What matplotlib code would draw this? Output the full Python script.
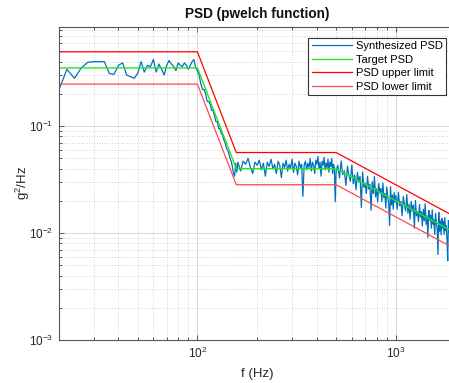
import numpy as np
import matplotlib
matplotlib.use("Agg")
import matplotlib.pyplot as plt
from matplotlib.ticker import LogLocator, NullFormatter

plt.rcParams['font.family'] = ['Liberation Sans', 'DejaVu Sans']
plt.rcParams['mathtext.fontset'] = 'custom'
plt.rcParams['mathtext.rm'] = 'Liberation Sans'
plt.rcParams['mathtext.it'] = 'Liberation Sans'

# ---- data ----
# Target PSD breakpoints and tolerance limits
target_f = [20, 100, 157, 500, 2000]
target_v = [0.35, 0.35, 0.04, 0.04, 0.01]
upper_v = [0.495, 0.495, 0.0566, 0.0566, 0.0141]
lower_v = [0.247, 0.247, 0.0283, 0.0283, 0.00707]

# Synthesized PSD (pwelch estimate)
synth_f_low = np.arange(20, 160, 2)
synth_v_low = [
    0.215, 0.34, 0.28, 0.35, 0.395, 0.40, 0.40, 0.40, 0.31, 0.305,
    0.37, 0.39, 0.30, 0.29, 0.28, 0.31, 0.40, 0.32, 0.37, 0.36,
    0.42, 0.32, 0.38, 0.34, 0.30, 0.37, 0.41, 0.38, 0.36, 0.33,
    0.39, 0.37, 0.36, 0.39, 0.37, 0.34, 0.37, 0.40, 0.42, 0.35,
    0.33, 0.30, 0.25, 0.22, 0.22, 0.20, 0.17, 0.17, 0.16, 0.14,
    0.14, 0.125, 0.11, 0.11, 0.095, 0.095, 0.085, 0.082, 0.074, 0.070,
    0.062, 0.060, 0.055, 0.050, 0.047, 0.042, 0.036, 0.034, 0.045, 0.037,
]
synth_f_mid = np.arange(160, 500, 5)
synth_v_mid = [
    0.046, 0.038, 0.047, 0.044, 0.050, 0.041, 0.036, 0.046,
    0.043, 0.048, 0.039, 0.045, 0.034, 0.046, 0.042, 0.049, 0.040, 0.044,
    0.036, 0.047, 0.043, 0.033, 0.045, 0.041, 0.048, 0.038, 0.044, 0.040,
    0.049, 0.037, 0.045, 0.042, 0.035, 0.047, 0.041, 0.044, 0.022, 0.043,
    0.047, 0.039, 0.045, 0.041, 0.050, 0.038, 0.046, 0.043, 0.036, 0.048,
    0.044, 0.052, 0.040, 0.046, 0.034, 0.047, 0.043, 0.051, 0.039, 0.045,
    0.041, 0.049, 0.037, 0.046, 0.042, 0.050, 0.036, 0.044, 0.041, 0.0196,
]
synth_f_high1 = np.arange(500, 1000, 10)
synth_v_high1 = [
    0.0380, 0.0431, 0.0327, 0.0472, 0.0352, 0.0382, 0.0279, 0.0421, 0.0345, 0.0305,
    0.0433, 0.0289, 0.0349, 0.0254, 0.0369, 0.0299, 0.0339, 0.0173, 0.0373, 0.0267,
    0.0292, 0.0234, 0.0339, 0.0258, 0.0286, 0.0163, 0.0302, 0.0234, 0.0338, 0.0218,
    0.0260, 0.0195, 0.0290, 0.0236, 0.0262, 0.0197, 0.0294, 0.0214, 0.0234, 0.0171,
    0.0269, 0.0218, 0.0193, 0.0118, 0.0272, 0.0183, 0.0227, 0.0167, 0.0239, 0.0194,
]
synth_f_high2 = np.append(np.arange(1000, 2000, 15), 2000)
synth_v_high2 = [
    0.0224, 0.0167, 0.0241, 0.0180, 0.0198, 0.0145, 0.0220, 0.0181, 0.0161, 0.0229,
    0.0153, 0.0186, 0.0135, 0.0197, 0.0160, 0.0183, 0.0111, 0.0202, 0.0145, 0.0159,
    0.0128, 0.0185, 0.0141, 0.0158, 0.0116, 0.0167, 0.0130, 0.0188, 0.0121, 0.0145,
    0.0091, 0.0163, 0.0132, 0.0147, 0.0111, 0.0165, 0.0121, 0.0133, 0.0097, 0.0152,
    0.0124, 0.0110, 0.0063, 0.0156, 0.0104, 0.0130, 0.0096, 0.0137, 0.0111, 0.0129,
    0.0097, 0.0140, 0.0105, 0.0117, 0.0086, 0.0055, 0.0131, 0.0108, 0.0096, 0.0138,
    0.0092, 0.0112, 0.0083, 0.0122, 0.0099, 0.0113, 0.0084, 0.0100,
]

synth_f = np.concatenate([synth_f_low, synth_f_mid, synth_f_high1, synth_f_high2])
synth_v = np.concatenate([synth_v_low, synth_v_mid, synth_v_high1, synth_v_high2])

labels = ["Synthesized PSD", "Target PSD", "PSD upper limit", "PSD lower limit"]

# ---- plot ----
fig = plt.figure(figsize=(4.49, 3.83), dpi=100)
ax = fig.add_axes([0.1307, 0.1123, 0.884, 0.818])

ax.loglog(synth_f, synth_v, color='#0072BD', lw=0.9, label=labels[0])
ax.loglog(target_f, target_v, color='#22e622', lw=1.0, label=labels[1])
ax.loglog(target_f, upper_v, color='#ff0000', lw=0.9, label=labels[2])
ax.loglog(target_f, lower_v, color='#ff4a4a', lw=0.9, label=labels[3])

ax.set_xlim(20, 2000)
ax.set_ylim(1e-3, 0.85)

ax.xaxis.set_major_locator(LogLocator(base=10))
ax.xaxis.set_minor_locator(LogLocator(base=10, subs=np.arange(2, 10)))
ax.yaxis.set_minor_locator(LogLocator(base=10, subs=np.arange(2, 10)))
ax.xaxis.set_minor_formatter(NullFormatter())
ax.yaxis.set_minor_formatter(NullFormatter())

ax.grid(True, which='major', color='#d9d9d9', lw=0.7, ls='-')
ax.grid(True, which='minor', color='#c4c4c4', lw=0.6, ls=(0, (1, 2)))
ax.set_axisbelow(True)

ax.tick_params(which='both', direction='in', top=True, right=True,
               colors='#404040', labelcolor='#262626', labelsize=8.5, width=0.6)
ax.tick_params(which='major', length=3.5, pad=4)
ax.tick_params(which='minor', length=2)
for s in ax.spines.values():
    s.set_color('#555555')
    s.set_linewidth(0.8)

ax.set_title("PSD (pwelch function)", fontsize=9.8, fontweight='bold', pad=6, color='#111111')
ax.set_xlabel("f (Hz)", fontsize=9.5, color='#262626', labelpad=5)
ax.set_ylabel("g$^2$/Hz", fontsize=9.5, color='#262626')
ax.yaxis.set_label_coords(-0.066, 0.5)

leg = ax.legend(loc='upper right', bbox_to_anchor=(0.9927, 0.9016),
                bbox_transform=fig.transFigure, fontsize=8, fancybox=False,
                framealpha=1, edgecolor='#333333', handlelength=3.6,
                handletextpad=0.35, labelspacing=0.33, borderpad=0.3,
                borderaxespad=0)
leg.get_frame().set_linewidth(0.8)

fig.savefig("out.png", dpi=100)
